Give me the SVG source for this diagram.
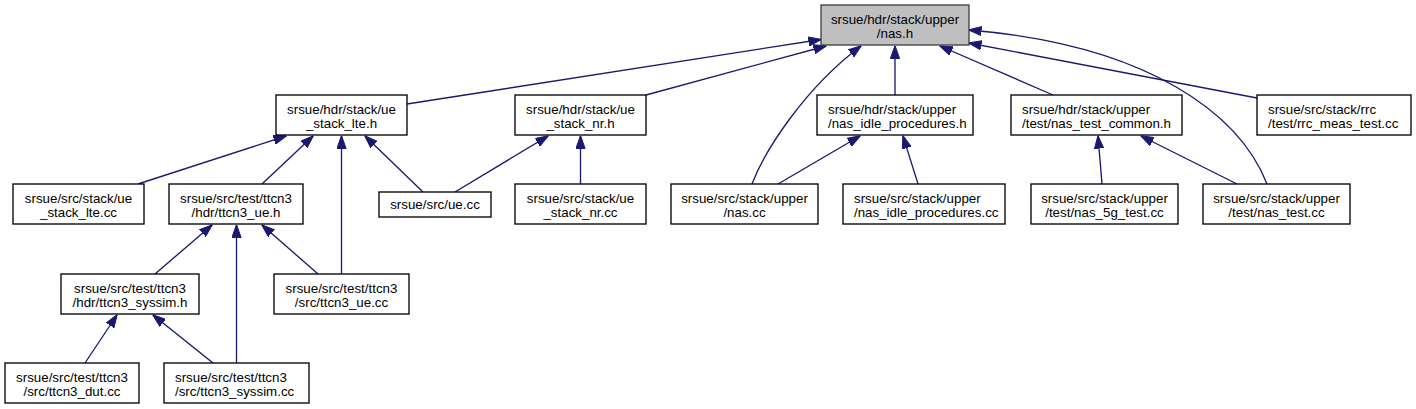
<svg xmlns="http://www.w3.org/2000/svg" width="1416" height="409" viewBox="0 0 1416 409">
<style>
.n rect{fill:#ffffff;stroke:#000000;stroke-width:1.33}
#root rect{fill:#bfbfbf;stroke:#404040}
text{font-family:"Liberation Sans",Arial,sans-serif;font-size:13.33px;fill:#000000}
.c{text-anchor:middle}
#edges path{fill:none;stroke:#191970;stroke-width:1.33;marker-end:url(#ah)}
</style>
<defs>
<marker id="ah" markerUnits="userSpaceOnUse" viewBox="0 0 13 10" markerWidth="13" markerHeight="10" refX="12.5" refY="5" orient="auto">
<path d="M0,0.4 L13,5 L0,9.6 z" fill="#191970" stroke="#191970" stroke-width="1"/>
</marker>
</defs>
<g id="edges">
<path d="M407,104 L821,39.5"/>
<path d="M646,95 L826,46"/>
<path d="M752,184 C765,150 805,88 861,46"/>
<path d="M895,95 L895,46"/>
<path d="M1053,95 L940,46"/>
<path d="M1257,98 L969,43"/>
<path d="M1267,184 C1240,115 1150,45 969,30"/>
<path d="M138,184 L286,136"/>
<path d="M262,184 L313,136"/>
<path d="M341.5,274 L341.5,136"/>
<path d="M423,192 L365,136"/>
<path d="M455,192 L548,136"/>
<path d="M580.5,184 L580.5,136"/>
<path d="M778,184 L860,136"/>
<path d="M918,184 L903,136"/>
<path d="M1102,184 L1098,136"/>
<path d="M1237,184 L1141,136"/>
<path d="M155,274 L212,225"/>
<path d="M318,274 L262,225"/>
<path d="M236.5,363 L236.5,225"/>
<path d="M85,363 L117,315"/>
<path d="M213,363 L153,315"/>
</g>
<g id="root" class="n"><rect x="821" y="5" width="148" height="40"/><text class="c" x="895" y="23.7">srsue/hdr/stack/upper</text><text class="c" x="895" y="38.3">/nas.h</text></g>
<g id="ue_stack_lte_h" class="n"><rect x="276" y="95" width="131" height="40"/><text class="c" x="341.5" y="113.7">srsue/hdr/stack/ue</text><text class="c" x="341.5" y="128.3">_stack_lte.h</text></g>
<g id="ue_stack_nr_h" class="n"><rect x="515" y="95" width="131" height="40"/><text class="c" x="580.5" y="113.7">srsue/hdr/stack/ue</text><text class="c" x="580.5" y="128.3">_stack_nr.h</text></g>
<g id="nas_idle_procedures_h" class="n"><rect x="817" y="95" width="156" height="40"/><text x="828" y="113.7">srsue/hdr/stack/upper</text><text x="828" y="128.3">/nas_idle_procedures.h</text></g>
<g id="nas_test_common_h" class="n"><rect x="1011" y="95" width="171" height="40"/><text x="1022" y="113.7">srsue/hdr/stack/upper</text><text x="1022" y="128.3">/test/nas_test_common.h</text></g>
<g id="rrc_meas_test_cc" class="n"><rect x="1257" y="95" width="154" height="40"/><text x="1268" y="113.7">srsue/src/stack/rrc</text><text x="1268" y="128.3">/test/rrc_meas_test.cc</text></g>
<g id="ue_stack_lte_cc" class="n"><rect x="13" y="184" width="131" height="40"/><text class="c" x="78.5" y="202.7">srsue/src/stack/ue</text><text class="c" x="78.5" y="217.3">_stack_lte.cc</text></g>
<g id="ttcn3_ue_h" class="n"><rect x="169" y="184" width="134" height="40"/><text class="c" x="236" y="202.7">srsue/src/test/ttcn3</text><text class="c" x="236" y="217.3">/hdr/ttcn3_ue.h</text></g>
<g id="ue_cc" class="n"><rect x="379" y="192" width="112" height="25"/><text class="c" x="435" y="209">srsue/src/ue.cc</text></g>
<g id="ue_stack_nr_cc" class="n"><rect x="515" y="184" width="131" height="40"/><text class="c" x="580.5" y="202.7">srsue/src/stack/ue</text><text class="c" x="580.5" y="217.3">_stack_nr.cc</text></g>
<g id="nas_cc" class="n"><rect x="671" y="184" width="147" height="40"/><text class="c" x="744.5" y="202.7">srsue/src/stack/upper</text><text class="c" x="744.5" y="217.3">/nas.cc</text></g>
<g id="nas_idle_procedures_cc" class="n"><rect x="843" y="184" width="162" height="40"/><text x="854" y="202.7">srsue/src/stack/upper</text><text x="854" y="217.3">/nas_idle_procedures.cc</text></g>
<g id="nas_5g_test_cc" class="n"><rect x="1031" y="184" width="147" height="40"/><text class="c" x="1104.5" y="202.7">srsue/src/stack/upper</text><text class="c" x="1104.5" y="217.3">/test/nas_5g_test.cc</text></g>
<g id="nas_test_cc" class="n"><rect x="1203" y="184" width="147" height="40"/><text class="c" x="1276.5" y="202.7">srsue/src/stack/upper</text><text class="c" x="1276.5" y="217.3">/test/nas_test.cc</text></g>
<g id="ttcn3_syssim_h" class="n"><rect x="61" y="274" width="138" height="40"/><text class="c" x="130" y="292.7">srsue/src/test/ttcn3</text><text class="c" x="130" y="307.3">/hdr/ttcn3_syssim.h</text></g>
<g id="ttcn3_ue_cc" class="n"><rect x="274" y="274" width="135" height="40"/><text class="c" x="341.5" y="292.7">srsue/src/test/ttcn3</text><text class="c" x="341.5" y="307.3">/src/ttcn3_ue.cc</text></g>
<g id="ttcn3_dut_cc" class="n"><rect x="5" y="363" width="134" height="40"/><text class="c" x="72" y="381.7">srsue/src/test/ttcn3</text><text class="c" x="72" y="396.3">/src/ttcn3_dut.cc</text></g>
<g id="ttcn3_syssim_cc" class="n"><rect x="164" y="363" width="145" height="40"/><text x="175" y="381.7">srsue/src/test/ttcn3</text><text x="175" y="396.3">/src/ttcn3_syssim.cc</text></g>
</svg>
